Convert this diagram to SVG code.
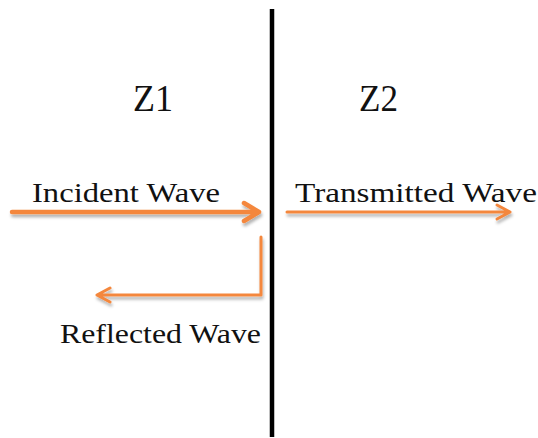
<svg xmlns="http://www.w3.org/2000/svg" width="538" height="438" viewBox="0 0 538 438">
<style>
.lbl{font-family:"Liberation Serif","DejaVu Serif",serif;fill:#111;}
.arr{fill:none;stroke:#F4873C;stroke-linecap:round;stroke-linejoin:round;}
</style>
<defs>
<filter id="sh" x="-10%" y="-50%" width="120%" height="200%">
<feDropShadow dx="1" dy="3" stdDeviation="1.5" flood-color="#000" flood-opacity="0.3"/>
</filter>
</defs>
<rect width="538" height="438" fill="#fff"/>
<g id="boundary"><line x1="272" y1="9" x2="272" y2="437" stroke="#000" stroke-width="4.5"/></g>
<g id="z1"><text class="lbl" x="133" y="111" font-size="37" textLength="40" lengthAdjust="spacingAndGlyphs">Z1</text></g>
<g id="z2"><text class="lbl" x="359" y="111" font-size="37" textLength="39" lengthAdjust="spacingAndGlyphs">Z2</text></g>
<g id="incident"><text class="lbl" x="32" y="202" font-size="28" textLength="188" lengthAdjust="spacingAndGlyphs">Incident Wave</text></g>
<g id="transmitted"><text class="lbl" x="295" y="202" font-size="28" textLength="242" lengthAdjust="spacingAndGlyphs">Transmitted Wave</text></g>
<g id="reflected"><text class="lbl" x="60" y="343" font-size="28" textLength="201" lengthAdjust="spacingAndGlyphs">Reflected Wave</text></g>
<g id="connectors" filter="url(#sh)">
<path class="arr" stroke-width="4.5" d="M12,212 H259 M244,203 L259,212 L244,221"/>
<path class="arr" stroke-width="3" d="M287,212 H510 M497,205 L510,212 L497,219"/>
<path class="arr" stroke-width="3" d="M261,237 V295 H97 M110,288 L97,295 L110,302"/>
</g>
</svg>
